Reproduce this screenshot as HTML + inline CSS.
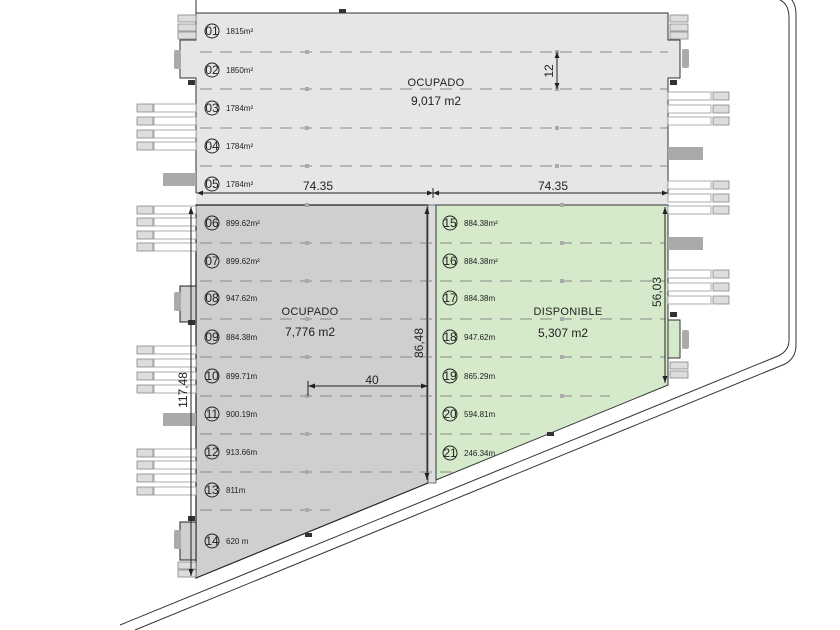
<!DOCTYPE html>
<html><head><meta charset="utf-8"><style>
html,body{margin:0;padding:0;background:#fff;}
svg{display:block;}
text{font-family:"Liberation Sans",sans-serif;fill:#222;}
.n{font-size:12px;text-anchor:middle;}
.a{font-size:8px;}
.L{font-size:11px;text-anchor:middle;letter-spacing:0.3px;}
</style></head><body>
<svg width="840" height="630" viewBox="0 0 840 630" xmlns="http://www.w3.org/2000/svg">
<!-- road -->
<path d="M120,625 L778,356 Q789,351 789,340 L789,18 Q789,4 780,0" fill="none" stroke="#333" stroke-width="1"/>
<path d="M135,630 L785,364 Q796,358 796,345 L796,15 Q796,3 790,-2" fill="none" stroke="#333" stroke-width="1"/>
<line x1="196" y1="0" x2="196" y2="13" stroke="#333"/>
<!-- top building -->
<path d="M196,13 H668 V40 H680 V78 H668 V193 H196 V78 H180 V40 H196 Z" fill="#e6e6e6" stroke="#333" stroke-width="1"/>
<rect x="196" y="193" width="472" height="12" fill="#e6e6e6"/>
<!-- lower dark -->
<path d="M196,205 H428 V483 L196,578 Z" fill="#cfcfcf" stroke="#222" stroke-width="1.2"/>
<path d="M180,286 H196 V322 H180 Z M180,522 H196 V560 H180 Z" fill="#cfcfcf" stroke="#222"/>
<rect x="428" y="205" width="8" height="278" fill="#dcdcdc" stroke="#555" stroke-width="0.8"/>
<!-- green -->
<path d="M436,205 H668 V385 L436,480 Z" fill="#d5eacb" stroke="#333" stroke-width="1"/>
<path d="M668,320 H680 V358 H668 Z" fill="#d5eacb" stroke="#333"/>
<!-- dashes -->
<g stroke="#888" stroke-width="1" stroke-dasharray="12,8">
<line x1="200" y1="52" x2="668" y2="52"/><line x1="200" y1="89" x2="668" y2="89"/>
<line x1="200" y1="128" x2="668" y2="128"/><line x1="200" y1="166" x2="668" y2="166"/>
<line x1="200" y1="243" x2="665" y2="243"/><line x1="200" y1="281" x2="665" y2="281"/>
<line x1="200" y1="319" x2="665" y2="319"/><line x1="200" y1="357" x2="665" y2="357"/>
<line x1="200" y1="396" x2="610" y2="396"/><line x1="200" y1="434" x2="530" y2="434"/>
<line x1="200" y1="472" x2="455" y2="472"/><line x1="200" y1="510" x2="330" y2="510"/>
</g>
<g fill="#aaa">
<rect x="305" y="50" width="4" height="4"/><rect x="555" y="50" width="4" height="4"/>
<rect x="305" y="87" width="4" height="4"/><rect x="555" y="87" width="4" height="4"/>
<rect x="305" y="126" width="4" height="4"/><rect x="555" y="126" width="4" height="4"/>
<rect x="305" y="164" width="4" height="4"/><rect x="555" y="164" width="4" height="4"/>
<rect x="305" y="203" width="4" height="4"/><rect x="560" y="203" width="4" height="4"/>
<rect x="305" y="241" width="4" height="4"/><rect x="560" y="241" width="4" height="4"/>
<rect x="305" y="279" width="4" height="4"/><rect x="560" y="279" width="4" height="4"/>
<rect x="305" y="317" width="4" height="4"/><rect x="560" y="317" width="4" height="4"/>
<rect x="305" y="355" width="4" height="4"/><rect x="560" y="355" width="4" height="4"/>
<rect x="305" y="394" width="4" height="4"/><rect x="560" y="394" width="4" height="4"/>
<rect x="305" y="432" width="4" height="4"/><rect x="305" y="470" width="4" height="4"/>
<rect x="305" y="508" width="4" height="4"/>
</g>
<!-- parking stalls -->
<g fill="#fff" stroke="#999" stroke-width="0.8">
<rect x="154" y="104" width="42" height="8"/><rect x="154" y="117" width="42" height="8"/><rect x="154" y="130" width="42" height="8"/><rect x="154" y="142" width="42" height="8"/>
<rect x="154" y="206" width="42" height="8"/><rect x="154" y="218" width="42" height="8"/><rect x="154" y="231" width="42" height="8"/><rect x="154" y="243" width="42" height="8"/>
<rect x="154" y="346" width="42" height="8"/><rect x="154" y="359" width="42" height="8"/><rect x="154" y="372" width="42" height="8"/><rect x="154" y="385" width="42" height="8"/>
<rect x="154" y="449" width="42" height="8"/><rect x="154" y="461" width="42" height="8"/><rect x="154" y="474" width="42" height="8"/><rect x="154" y="487" width="42" height="8"/>
<rect x="668" y="92" width="43" height="8"/><rect x="668" y="105" width="43" height="8"/><rect x="668" y="117" width="43" height="8"/>
<rect x="668" y="181" width="43" height="8"/><rect x="668" y="194" width="43" height="8"/><rect x="668" y="206" width="43" height="8"/>
<rect x="668" y="270" width="43" height="8"/><rect x="668" y="283" width="43" height="8"/><rect x="668" y="296" width="43" height="8"/>
</g>
<g fill="#ddd" stroke="#888" stroke-width="0.8">
<rect x="137" y="104" width="16" height="8"/><rect x="137" y="117" width="16" height="8"/><rect x="137" y="130" width="16" height="8"/><rect x="137" y="142" width="16" height="8"/>
<rect x="137" y="206" width="16" height="8"/><rect x="137" y="218" width="16" height="8"/><rect x="137" y="231" width="16" height="8"/><rect x="137" y="243" width="16" height="8"/>
<rect x="137" y="346" width="16" height="8"/><rect x="137" y="359" width="16" height="8"/><rect x="137" y="372" width="16" height="8"/><rect x="137" y="385" width="16" height="8"/>
<rect x="137" y="449" width="16" height="8"/><rect x="137" y="461" width="16" height="8"/><rect x="137" y="474" width="16" height="8"/><rect x="137" y="487" width="16" height="8"/>
<rect x="713" y="92" width="16" height="8"/><rect x="713" y="105" width="16" height="8"/><rect x="713" y="117" width="16" height="8"/>
<rect x="713" y="181" width="16" height="8"/><rect x="713" y="194" width="16" height="8"/><rect x="713" y="206" width="16" height="8"/>
<rect x="713" y="270" width="16" height="8"/><rect x="713" y="283" width="16" height="8"/><rect x="713" y="296" width="16" height="8"/>
<rect x="178" y="15" width="18" height="7"/><rect x="178" y="24" width="18" height="7"/><rect x="178" y="32" width="18" height="7"/>
<rect x="670" y="15" width="18" height="7"/><rect x="670" y="24" width="18" height="7"/><rect x="670" y="32" width="18" height="7"/>
<rect x="670" y="362" width="18" height="7"/><rect x="670" y="371" width="18" height="7"/>
<rect x="178" y="562" width="18" height="7"/><rect x="178" y="570" width="18" height="7"/>
</g>
<g fill="#aaa">
<rect x="163" y="173" width="33" height="13"/><rect x="163" y="413" width="33" height="13"/>
<rect x="668" y="147" width="35" height="13"/><rect x="668" y="237" width="35" height="13"/>
<rect x="174" y="50" width="7" height="19" rx="2"/><rect x="682" y="49" width="7" height="19" rx="2"/>
<rect x="174" y="292" width="7" height="19" rx="2"/><rect x="682" y="330" width="7" height="19" rx="2"/>
<rect x="174" y="530" width="7" height="19" rx="2"/>
</g>
<g fill="#333"><rect x="339" y="9" width="7" height="4"/><rect x="188" y="80" width="7" height="5"/><rect x="670" y="80" width="7" height="5"/><rect x="188" y="320" width="7" height="5"/><rect x="188" y="516" width="7" height="5"/><rect x="670" y="312" width="7" height="5"/><rect x="547" y="432" width="7" height="4"/><rect x="305" y="533" width="7" height="4"/></g>
<!-- dimension lines -->
<g stroke="#222" stroke-width="1" fill="none">
<line x1="197" y1="193" x2="668" y2="193"/>
<line x1="433" y1="188" x2="433" y2="198"/>
<line x1="557" y1="52" x2="557" y2="89"/>
<line x1="427" y1="207" x2="427" y2="480"/>
<line x1="191" y1="207" x2="191" y2="576"/>
<line x1="665" y1="207" x2="665" y2="383"/>
<line x1="308" y1="386" x2="428" y2="386"/><line x1="308" y1="381" x2="308" y2="396"/>
</g>
<g fill="#222">
<path d="M197,193 l6,-2.5 v5z M668,193 l-6,-2.5 v5z M433,193 l-6,-2.5 v5z M433,193 l6,-2.5 v5z"/>
<path d="M557,52 l-2.5,6 h5z M557,89 l-2.5,-6 h5z"/>
<path d="M427,207 l-2.5,7 h5z M427,480 l-2.5,-7 h5z"/>
<path d="M191,207 l-2.5,7 h5z M191,576 l-2.5,-7 h5z"/>
<path d="M665,207 l-2.5,7 h5z M665,383 l-2.5,-7 h5z"/>
<path d="M308,386 l7,-2.5 v5z M428,386 l-7,-2.5 v5z"/>
</g>
<text class="n" x="318" y="190">74.35</text>
<text class="n" x="553" y="190">74.35</text>
<text class="n" transform="translate(553,71) rotate(-90)">12</text>
<text class="n" transform="translate(423,343) rotate(-90)">86,48</text>
<text class="n" transform="translate(187,390) rotate(-90)">117,48</text>
<text class="n" transform="translate(661,292) rotate(-90)">56,03</text>
<text class="n" x="372" y="384">40</text>
<text class="L" x="436" y="86">OCUPADO</text>
<text class="n" x="436" y="105">9,017 m2</text>
<text class="L" x="310" y="315">OCUPADO</text>
<text class="n" x="310" y="336">7,776 m2</text>
<text class="L" x="568" y="315">DISPONIBLE</text>
<text class="n" x="563" y="337">5,307 m2</text>
<!-- lot labels -->
<g fill="none" stroke="#222" stroke-width="1">
<circle cx="212" cy="31" r="7"/><circle cx="212" cy="70" r="7"/><circle cx="212" cy="108" r="7"/><circle cx="212" cy="146" r="7"/><circle cx="212" cy="184" r="7"/>
<circle cx="212" cy="223" r="7"/><circle cx="212" cy="261" r="7"/><circle cx="212" cy="298" r="7"/><circle cx="212" cy="337" r="7"/><circle cx="212" cy="376" r="7"/><circle cx="212" cy="414" r="7"/><circle cx="212" cy="452" r="7"/><circle cx="212" cy="490" r="7"/><circle cx="212" cy="541" r="7"/>
<circle cx="450" cy="223" r="7"/><circle cx="450" cy="261" r="7"/><circle cx="450" cy="298" r="7"/><circle cx="450" cy="337" r="7"/><circle cx="450" cy="376" r="7"/><circle cx="450" cy="414" r="7"/><circle cx="450" cy="453" r="7"/>
</g>
<g class="n" style="font-size:11px">
<text class="n" x="212" y="35">01</text><text class="n" x="212" y="74">02</text><text class="n" x="212" y="112">03</text><text class="n" x="212" y="150">04</text><text class="n" x="212" y="188">05</text>
<text class="n" x="212" y="227">06</text><text class="n" x="212" y="265">07</text><text class="n" x="212" y="302">08</text><text class="n" x="212" y="341">09</text><text class="n" x="212" y="380">10</text><text class="n" x="212" y="418">11</text><text class="n" x="212" y="456">12</text><text class="n" x="212" y="494">13</text><text class="n" x="212" y="545">14</text>
<text class="n" x="450" y="227">15</text><text class="n" x="450" y="265">16</text><text class="n" x="450" y="302">17</text><text class="n" x="450" y="341">18</text><text class="n" x="450" y="380">19</text><text class="n" x="450" y="418">20</text><text class="n" x="450" y="457">21</text>
</g>
<text class="a" x="226" y="34">1815m²</text><text class="a" x="226" y="73">1850m²</text><text class="a" x="226" y="111">1784m²</text><text class="a" x="226" y="149">1784m²</text><text class="a" x="226" y="187">1784m²</text>
<text class="a" x="226" y="226">899.62m²</text><text class="a" x="226" y="264">899.62m²</text><text class="a" x="226" y="301">947.62m</text><text class="a" x="226" y="340">884.38m</text><text class="a" x="226" y="379">899.71m</text><text class="a" x="226" y="417">900.19m</text><text class="a" x="226" y="455">913.66m</text><text class="a" x="226" y="493">811m</text><text class="a" x="226" y="544">620 m</text>
<text class="a" x="464" y="226">884.38m²</text><text class="a" x="464" y="264">884.38m²</text><text class="a" x="464" y="301">884.38m</text><text class="a" x="464" y="340">947.62m</text><text class="a" x="464" y="379">865.29m</text><text class="a" x="464" y="417">594.81m</text><text class="a" x="464" y="456">246.34m</text>
</svg>
</body></html>
